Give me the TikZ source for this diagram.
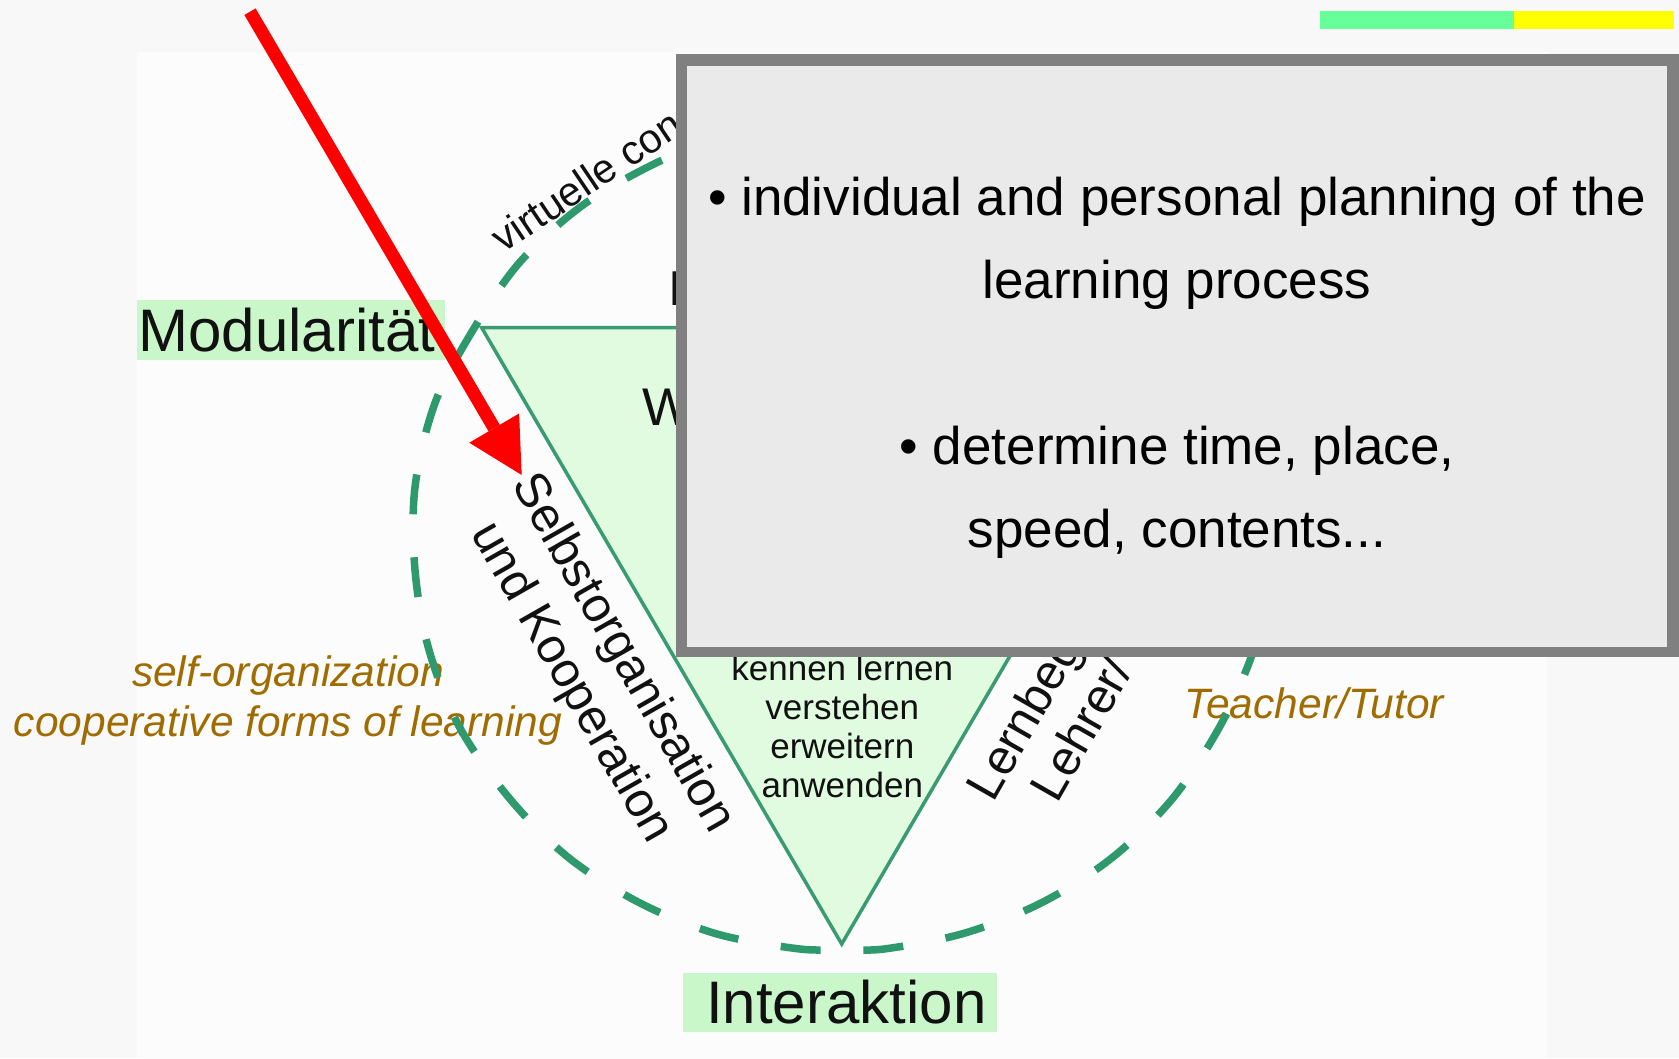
\documentclass[tikz,border=0pt]{standalone}
\usepackage{fontspec}
\setmainfont{Liberation Sans}
\usetikzlibrary{calc}
\definecolor{bgout}{RGB}{248,248,248}
\definecolor{panelc}{RGB}{252,252,252}
\definecolor{bargreen}{RGB}{102,255,153}
\definecolor{baryellow}{RGB}{255,255,0}
\definecolor{dashgreen}{RGB}{46,153,108}
\definecolor{tristroke}{RGB}{58,155,112}
\definecolor{trifill}{RGB}{224,251,224}
\definecolor{lblgreen}{RGB}{201,247,201}
\definecolor{engcol}{RGB}{160,108,0}
\definecolor{boxborder}{RGB}{128,128,128}
\definecolor{boxinner}{RGB}{234,234,234}
\definecolor{txtblack}{RGB}{17,17,17}
\definecolor{arrowred}{RGB}{255,0,0}
\tikzset{
  lbl/.style={fill=lblgreen, inner sep=0pt, text=txtblack, font=\fontsize{60}{72}\selectfont},
  rottxt/.style={inner sep=0pt, anchor=base, text=txtblack, font=\fontsize{49}{57}\selectfont},
  tritxt/.style={inner sep=0pt, anchor=base, text=txtblack, font=\fontsize{35}{39}\selectfont},
  engl/.style={inner sep=0pt, text=engcol, font=\fontsize{42.5}{48}\selectfont\itshape},
  boxtxt/.style={inner sep=0pt, anchor=base, text=black, font=\fontsize{53}{83}\selectfont},
  cutletter/.style={inner sep=0pt, anchor=base west, text=txtblack},
  dashring/.style={draw=dashgreen, line width=7.5pt, dash pattern=on 40pt off 43pt, dash phase=61.5pt},
}
\begin{document}
\begin{tikzpicture}[x=1pt,y=-1pt]
\useasboundingbox (0,0) rectangle (1679,1058);
% backgrounds
\fill[bgout] (0,0) rectangle (1679,1058);
\fill[panelc] (137,52) rectangle (1547,1058);
\fill[bargreen] (1320,11) rectangle (1514,29);
\fill[baryellow] (1514,11) rectangle (1674,29);
% triangle
\coordinate (tl) at (481.7,327.7);
\coordinate (tr) at (1201.7,327.7);
\coordinate (tb) at (841.7,944);
\draw[fill=trifill, draw=tristroke, line width=3.5pt, line join=miter] (tl) -- (tr) -- (tb) -- cycle;
% corner labels
\node[lbl, minimum width=308pt, minimum height=60pt] (modul) at (291,330) {Modularität\hspace*{8pt}};
\node[lbl, minimum width=314pt, minimum height=59pt] (inter) at (840.3,1002.2) {\hspace*{12pt}Interaktion};
% texts inside triangle
\node[tritxt] (t1) at (842.3,680) {kennen lernen};
\node[tritxt] (t2) at (842.3,719) {verstehen};
\node[tritxt] (t3) at (842.3,758) {erweitern};
\node[tritxt] (t4) at (842.3,797) {anwenden};
% rotated side texts
\node[rottxt, rotate=-60.3] (selbst) at (611.1,659.9) {Selbstorganisation};
\node[rottxt, rotate=-60.3] (koop) at (559.5,689.4) {und Kooperation};
\node[rottxt, anchor=base west, rotate=60.3] (lernbeg) at (993.7,803.8) {Lernbeg};
\node[rottxt, anchor=base west, rotate=60.3] (lehrer) at (1057.7,804.3) {Lehrer/};
\node[rottxt, anchor=base west, rotate=34, font=\fontsize{41}{48}\selectfont] (virt) at (503.6,254) {virtuelle con};
\node[cutletter, font=\fontsize{49}{57}\selectfont] (capI) at (668.4,305.7) {I};
\node[cutletter, font=\fontsize{53}{60}\selectfont] (capW) at (642.5,425) {W};
% english annotations
\node[engl, anchor=base] (selforg) at (288,686) {self-organization};
\node[engl, anchor=base] (coop) at (288,736.7) {cooperative forms of learning};
\node[engl, anchor=base west] (teacher) at (1184,718.3) {Teacher/Tutor};
% dashed ring, drawn in two halves from the bottom point
\coordinate (ringbottom) at (842,949);
\draw[dashring] plot[smooth, tension=0.55] coordinates {
 (842,949) (800,949) (717,934) (640,903) (569,858) (510,799) (460,728)
 (429,650) (415,570) (415,487) (435,403) (473,330) (520,262) (583,205)
 (656,163) (725,135)};
\draw[dashring] plot[smooth, tension=0.55] coordinates {
 (842,949) (884,949) (965,933) (1043,902) (1113,857) (1173,798)
 (1219,728) (1249,663) (1268,600)};
% grey overlay box
\fill[boxborder] (675.7,54) rectangle (1679,657.3);
\fill[boxinner] (686.7,66) rectangle (1667,646.7);
\node[boxtxt] (b1) at (1177,215) {• individual and personal planning of the};
\node[boxtxt] (b2) at (1177,298) {learning process};
\node[boxtxt] (b3) at (1177,464) {• determine time, place,};
\node[boxtxt] (b4) at (1177,547) {speed, contents...};
% red arrow
\coordinate (arrowstart) at (250,11.7);
\coordinate (headbase) at (494.2,428.1);
\coordinate (arrowtip) at (521.7,475);
\coordinate (headL) at (469.3,442.7);
\coordinate (headR) at (519.1,413.5);
\draw[arrowred, line width=13pt] (arrowstart) -- (headbase);
\fill[arrowred] (arrowtip) -- (headL) -- (headR) -- cycle;
\end{tikzpicture}
\end{document}
